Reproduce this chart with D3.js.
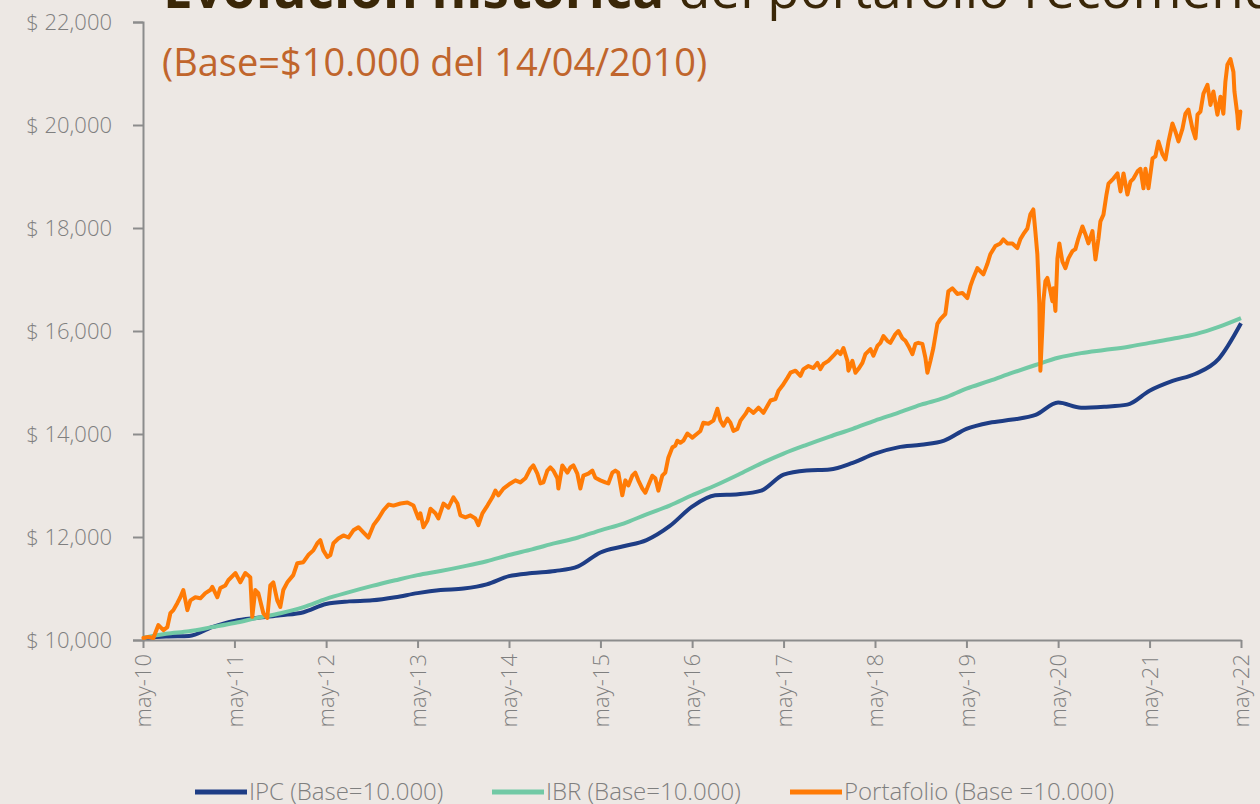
<!DOCTYPE html>
<html>
<head>
<meta charset="utf-8">
<script src="https://cdn.jsdelivr.net/npm/d3@7"></script>
<style>
	body { margin: 0; background: #ede8e4; overflow: hidden; }
	svg { display: block; }
	text { font-family: "Open Sans", "Noto Sans", sans-serif; }
</style>
</head>
<body>
<div id="chart"></div>
<script>

///////////////////////////////////////////////////////////////////////////
//////////////////////////////// Data /////////////////////////////////////
///////////////////////////////////////////////////////////////////////////

//Quarterly dates for the IPC and IBR series
var quarterDates = [
	"2010-05","2010-08","2010-11","2011-02","2011-05","2011-08","2011-11","2012-02",
	"2012-05","2012-08","2012-11","2013-02","2013-05","2013-08","2013-11","2014-02",
	"2014-05","2014-08","2014-11","2015-02","2015-05","2015-08","2015-11","2016-02",
	"2016-05","2016-08","2016-11","2017-02","2017-05","2017-08","2017-11","2018-02",
	"2018-05","2018-08","2018-11","2019-02","2019-05","2019-08","2019-11","2020-02",
	"2020-05","2020-08","2020-11","2021-02","2021-05","2021-08","2021-11","2022-02",
	"2022-05"
];

var ipcValues = [
	10040,10070,10080,10250,10370,10430,10480,10540,
	10700,10750,10770,10830,10910,10970,11000,11080,
	11240,11300,11340,11430,11700,11820,11940,12210,
	12590,12810,12830,12900,13210,13290,13310,13440,
	13620,13740,13790,13870,14100,14220,14280,14370,
	14610,14510,14530,14570,14840,15030,15170,15460,
	16150
];

var ibrValues = [
	10040,10120,10170,10250,10330,10430,10520,10640,
	10800,10930,11050,11160,11260,11340,11430,11530,
	11650,11760,11880,11990,12130,12260,12440,12610,
	12810,13000,13210,13430,13620,13790,13950,14100,
	14260,14410,14570,14700,14880,15030,15190,15340,
	15480,15570,15630,15690,15770,15850,15940,16080,
	16250
];

//Portfolio, read at irregular points (decimal years)
var portTime = [
	2010.333,2010.388,2010.442,2010.497,2010.552,2010.595,2010.628,2010.661,2010.705,2010.737,2010.770,2010.814,2010.847,2010.901,2010.956,
	2011.011,2011.065,2011.087,2011.142,2011.175,2011.229,2011.262,2011.339,2011.393,2011.448,2011.502,2011.524,2011.557,2011.590,2011.645,2011.688,2011.721,2011.754,2011.797,2011.830,2011.863,2011.907,2011.972,
	2012.016,2012.082,2012.136,2012.191,2012.235,2012.267,2012.300,2012.344,2012.377,2012.410,2012.464,2012.519,2012.574,2012.628,2012.683,2012.737,2012.792,2012.847,2012.901,2012.956,
	2013.011,2013.065,2013.142,2013.218,2013.284,2013.339,2013.360,2013.393,2013.437,2013.470,2013.524,2013.557,2013.612,2013.666,2013.721,2013.765,2013.797,2013.852,2013.907,2013.961,2013.994,
	2014.038,2014.093,2014.147,2014.180,2014.213,2014.268,2014.344,2014.399,2014.453,2014.508,2014.563,2014.595,2014.639,2014.672,2014.705,2014.748,2014.781,2014.814,2014.858,2014.869,2014.912,2014.967,
	2015.000,2015.033,2015.076,2015.109,2015.142,2015.197,2015.240,2015.273,2015.328,2015.382,2015.415,2015.459,2015.492,2015.524,2015.568,2015.601,2015.634,2015.677,2015.710,2015.743,2015.787,2015.820,2015.852,2015.896,2015.929,2015.962,
	2016.005,2016.038,2016.071,2016.115,2016.147,2016.169,2016.202,2016.235,2016.279,2016.333,2016.388,2016.421,2016.453,2016.508,2016.563,2016.606,2016.639,2016.672,2016.716,2016.748,2016.781,2016.825,2016.858,2016.913,2016.945,
	2017.000,2017.055,2017.109,2017.153,2017.186,2017.240,2017.273,2017.317,2017.371,2017.404,2017.459,2017.513,2017.546,2017.601,2017.655,2017.699,2017.732,2017.765,2017.819,2017.874,2017.918,2017.951,2017.984,
	2018.027,2018.038,2018.082,2018.115,2018.147,2018.191,2018.224,2018.279,2018.311,2018.355,2018.388,2018.421,2018.464,2018.497,2018.552,2018.585,2018.628,2018.661,2018.694,2018.738,2018.771,2018.803,2018.847,2018.880,2018.902,2018.935,2018.967,
	2019.011,2019.044,2019.098,2019.131,2019.175,2019.229,2019.284,2019.339,2019.372,2019.404,2019.448,2019.481,2019.514,2019.557,2019.590,2019.645,2019.700,2019.732,2019.776,2019.831,2019.885,2019.918,2019.951,2019.995,
	2020.027,2020.060,2020.082,2020.104,2020.126,2020.137,2020.159,2020.170,2020.192,2020.213,2020.246,2020.268,2020.279,2020.301,2020.323,2020.344,2020.377,2020.410,2020.443,2020.486,2020.519,2020.552,2020.596,2020.628,2020.661,2020.705,2020.738,2020.771,2020.792,2020.825,2020.858,2020.880,2020.934,2020.978,
	2021.011,2021.044,2021.087,2021.120,2021.153,2021.197,2021.229,2021.262,2021.284,2021.317,2021.361,2021.393,2021.426,2021.470,2021.503,2021.536,2021.579,2021.612,2021.645,2021.689,2021.721,2021.754,2021.798,2021.831,2021.853,2021.885,2021.918,2021.962,2021.995,
	2022.027,2022.071,2022.104,2022.136,2022.158,2022.180,2022.213,2022.246,2022.257,2022.289,2022.300,2022.322
];

var portValues = [
	10040,10060,10040,10290,10190,10250,10520,10580,10720,10830,10970,10580,10770,10830,10810,
	10910,10970,11030,10830,11010,11060,11160,11300,11120,11300,11220,10450,10970,10910,10520,10430,11060,11120,10770,10640,10970,11120,11260,
	11490,11510,11650,11740,11880,11940,11740,11610,11650,11880,11970,12030,11990,12130,12190,12090,11990,12230,12360,12520,
	12630,12610,12650,12670,12610,12360,12460,12190,12320,12550,12460,12360,12650,12570,12770,12650,12420,12380,12420,12360,12230,
	12460,12610,12770,12900,12810,12940,13040,13100,13060,13140,13330,13390,13230,13040,13060,13290,13350,13290,13140,12940,13390,13250,
	13350,13390,13230,12940,13190,13230,13290,13150,13100,13060,13040,13250,13290,13250,12810,13100,13000,13190,13250,13100,12940,12860,13000,13190,13140,12900,
	13190,13250,13540,13740,13770,13870,13830,13870,14010,13930,14010,14060,14220,14200,14260,14490,14260,14160,14300,14220,14060,14100,14260,14390,14490,
	14410,14510,14410,14550,14650,14680,14840,14940,15090,15190,15230,15130,15260,15320,15280,15380,15260,15360,15420,15520,15610,15550,15670,
	15420,15230,15420,15190,15260,15380,15550,15650,15520,15710,15770,15900,15810,15770,15940,16000,15860,15810,15710,15550,15750,15770,15750,15480,15190,15420,15670,
	16140,16230,16330,16770,16830,16720,16740,16640,16870,17030,17220,17160,17100,17300,17490,17650,17700,17780,17700,17700,17610,17780,17880,17990,
	18260,18360,17940,17490,16520,15230,16060,16580,16970,17030,16770,16580,16830,16390,17410,17700,17350,17220,17410,17550,17590,17800,18030,17880,17700,17940,17390,17800,18130,18260,18650,18860,18960,19060,
	18710,19060,18650,18900,18960,19100,19150,18770,19150,18770,19350,19390,19680,19430,19330,19680,20030,19870,19680,19930,20220,20300,19930,19740,20200,20260,20610,20780,20390,
	20650,20200,20550,20220,20840,21170,21280,21030,20650,20200,19930,20260
];

//Axis ticks
var yTickValues = [10000, 12000, 14000, 16000, 18000, 20000, 22000];
var yTickLabels = ["$ 10,000", "$ 12,000", "$ 14,000", "$ 16,000", "$ 18,000", "$ 20,000", "$ 22,000"];
var xTickDates = ["2010-05","2011-05","2012-05","2013-05","2014-05","2015-05","2016-05","2017-05","2018-05","2019-05","2020-05","2021-05","2022-05"];
var xTickLabels = ["may-10","may-11","may-12","may-13","may-14","may-15","may-16","may-17","may-18","may-19","may-20","may-21","may-22"];

var seriesNames = ["IPC (Base=10.000)", "IBR (Base=10.000)", "Portafolio (Base =10.000)"];

///////////////////////////////////////////////////////////////////////////
//////////////////// Set up and initiate svg container ////////////////////
///////////////////////////////////////////////////////////////////////////

var width = 1260,
	height = 804;

var plot = { left: 143, right: 1241, top: 22, bottom: 640 };

var textColor = "#7f7f7f",
	axisColor = "#8c8c8c";
var colors = ["#1e3d85", "#72c9a5", "#ff7b06"];

var svg = d3.select("#chart")
	.append("svg")
	.attr("width", width)
	.attr("height", height)
	.style("background", "#ede8e4");

var parseMonth = d3.timeParse("%Y-%m");

//Decimal year to date
function yearToDate(t) {
	var y = Math.floor(t);
	var start = new Date(y, 0, 1), end = new Date(y + 1, 0, 1);
	return new Date(start.getTime() + (t - y) * (end - start));
}

var x = d3.scaleTime()
	.domain([parseMonth("2010-05"), parseMonth("2022-05")])
	.range([plot.left, plot.right]);

var y = d3.scaleLinear()
	.domain([10000, 22000])
	.range([plot.bottom, plot.top]);

///////////////////////////////////////////////////////////////////////////
//////////////////////////////// Titles ///////////////////////////////////
///////////////////////////////////////////////////////////////////////////

var title = svg.append("text")
	.attr("x", 163)
	.attr("y", 8)
	.style("font-size", "53px")
	.style("fill", "#3a2708");
title.append("tspan").style("font-weight", 700).text("Evolución histórica");
title.append("tspan").style("font-weight", 400).text(" del portafolio recomendado");

svg.append("text")
	.attr("x", 162)
	.attr("y", 76)
	.style("font-size", "38px")
	.style("fill", "#c0652c")
	.text("(Base=$10.000 del 14/04/2010)");

///////////////////////////////////////////////////////////////////////////
///////////////////////////////// Axes ////////////////////////////////////
///////////////////////////////////////////////////////////////////////////

var yAxis = svg.append("g")
	.attr("transform", "translate(" + plot.left + ",0)")
	.call(d3.axisLeft(y)
		.tickValues(yTickValues)
		.tickFormat(function(d, i) { return yTickLabels[i]; })
		.tickSize(10)
		.tickPadding(21));

var xAxis = svg.append("g")
	.attr("transform", "translate(0," + plot.bottom + ")")
	.call(d3.axisBottom(x)
		.tickValues(xTickDates.map(parseMonth))
		.tickFormat(function(d, i) { return xTickLabels[i]; })
		.tickSize(8)
		.tickSizeOuter(0));

[yAxis, xAxis].forEach(function(ax) {
	ax.select(".domain").style("stroke", axisColor).style("stroke-width", 2);
	ax.selectAll(".tick line").style("stroke", axisColor).style("stroke-width", 2);
	ax.selectAll("text")
		.style("font-family", "'Open Sans', sans-serif")
		.style("font-weight", 300)
		.style("font-size", "22px")
		.style("fill", textColor);
});

xAxis.selectAll("text")
	.attr("transform", "rotate(-90)")
	.attr("x", -14)
	.attr("y", 0)
	.attr("dy", "0.35em")
	.style("text-anchor", "end");

///////////////////////////////////////////////////////////////////////////
///////////////////////////////// Lines ///////////////////////////////////
///////////////////////////////////////////////////////////////////////////

var smoothLine = d3.line()
	.curve(d3.curveMonotoneX)
	.x(function(d) { return x(d.date); })
	.y(function(d) { return y(d.value); });

var rawLine = d3.line()
	.x(function(d) { return x(d.date); })
	.y(function(d) { return y(d.value); });

var ipc = quarterDates.map(function(d, i) { return { date: parseMonth(d), value: ipcValues[i] }; });
var ibr = quarterDates.map(function(d, i) { return { date: parseMonth(d), value: ibrValues[i] }; });
var port = portTime.map(function(t, i) { return { date: yearToDate(t), value: portValues[i] }; });

svg.append("path")
	.datum(ipc)
	.attr("d", smoothLine)
	.style("fill", "none")
	.style("stroke", colors[0])
	.style("stroke-width", 4);

svg.append("path")
	.datum(ibr)
	.attr("d", smoothLine)
	.style("fill", "none")
	.style("stroke", colors[1])
	.style("stroke-width", 4);

svg.append("path")
	.datum(port)
	.attr("d", rawLine)
	.style("fill", "none")
	.style("stroke", colors[2])
	.style("stroke-width", 4)
	.style("stroke-linejoin", "round")
	.style("stroke-linecap", "round");

///////////////////////////////////////////////////////////////////////////
//////////////////////////////// Legend ///////////////////////////////////
///////////////////////////////////////////////////////////////////////////

var legendX = [195, 492, 790];

var legend = svg.selectAll(".legendItem")
	.data(seriesNames)
	.enter().append("g")
	.attr("class", "legendItem")
	.attr("transform", function(d, i) { return "translate(" + legendX[i] + ",792)"; });

legend.append("line")
	.attr("x1", 0)
	.attr("x2", 52)
	.style("stroke", function(d, i) { return colors[i]; })
	.style("stroke-width", 5);

legend.append("text")
	.attr("x", 54)
	.attr("y", 0)
	.attr("dy", "0.35em")
	.style("font-size", "24px")
	.style("font-weight", 300)
	.style("fill", textColor)
	.text(function(d) { return d; });

</script>
</body>
</html>
